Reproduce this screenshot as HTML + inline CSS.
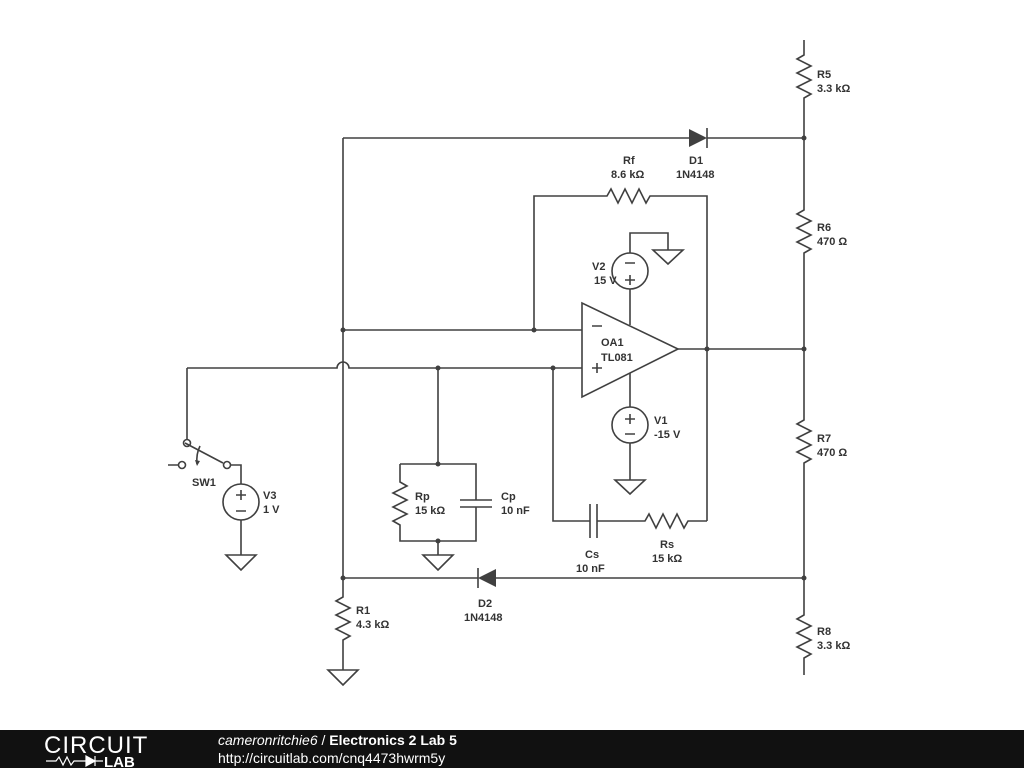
<!DOCTYPE html>
<html><head><meta charset="utf-8"><style>
body{margin:0;background:#fff}
svg{display:block}
text{font-family:"Liberation Sans",sans-serif;font-size:11px;font-weight:bold;fill:#333}
</style></head><body>
<svg width="1024" height="768" viewBox="0 0 1024 768" xmlns="http://www.w3.org/2000/svg">
<g stroke="#404040" stroke-width="1.6" fill="none">
<path d="M804 40V55l-7 4 14 7-14 7 14 7-14 7 14 7-7 4V210l-7 4 14 7-14 7 14 7-14 7 14 7-7 4V420l-7 4 14 7-14 7 14 7-14 7 14 7-7 4V615l-7 4 14 7-14 7 14 7-14 7 14 7-7 4V675"/>
<path d="M343 138H689M707 138H804"/>
<path d="M707 128V148"/>
<path d="M343 138V597l-7 4 14 7-14 7 14 7-14 7 14 7-7 4V670"/>
<path d="M534 330V196H607l4-7 7 14 7-14 7 14 7-14 7 14 4-7H707V521"/>
<path d="M343 330H582"/>
<path d="M582 303V397L678 349Z"/>
<path d="M678 349H804"/>
<path d="M187 368H337a6 6 0 0 1 12 0H582"/>
<path d="M630 325V289M630 253V233H668V250"/>
<circle cx="630" cy="271" r="18"/>
<path d="M625 263h10M630 275v10M625 280h10"/>
<path d="M630 373V407M630 443V480"/>
<circle cx="630" cy="425" r="18"/>
<path d="M625 419h10M630 414v10M625 434h10"/>
<path d="M553 368V521H590M597 521H645l4-7 7 14 7-14 7 14 7-14 7 14 4-7H707"/>
<path d="M590 504V538M597 504V538"/>
<path d="M438 368V464M400 464H476V500M476 507V541H400V525l-7-4 14-7-14-7 14-7-14-7 14-7-7-4V464M438 541V555"/>
<path d="M460 500H492M460 507H492"/>
<path d="M187 368V439M168 465H178M185 443L223 463M231 465H241V484M241 520V555"/>
<circle cx="187" cy="443" r="3.5"/><circle cx="182" cy="465" r="3.5"/><circle cx="227" cy="465" r="3.5"/>
<path d="M200 446q-4 8 -3 18"/>
<circle cx="241" cy="502" r="18"/>
<path d="M236 495h10M241 490v10M236 511h10"/>
<path d="M343 578H478M496 578H804"/>
<path d="M478 568V588"/>
<path d="M653 250H683L668 264Z"/>
<path d="M615 480H645L630 494Z"/>
<path d="M226 555H256L241 570Z"/>
<path d="M423 555H453L438 570Z"/>
<path d="M328 670H358L343 685Z"/>
<path d="M592 326h10M592 368h10M597 363v10"/>
</g>
<g fill="#404040">
<path d="M689 129V147L707 138Z"/>
<path d="M496 569V587L478 578Z"/>
<path d="M195 460l2 6 3-5Z"/>
<circle cx="804" cy="138" r="2.5"/><circle cx="804" cy="349" r="2.5"/><circle cx="804" cy="578" r="2.5"/>
<circle cx="707" cy="349" r="2.5"/><circle cx="534" cy="330" r="2.5"/><circle cx="343" cy="330" r="2.5"/>
<circle cx="438" cy="368" r="2.5"/><circle cx="553" cy="368" r="2.5"/><circle cx="438" cy="464" r="2.5"/>
<circle cx="438" cy="541" r="2.5"/><circle cx="343" cy="578" r="2.5"/>
</g>
<text x="817" y="78">R5</text><text x="817" y="92">3.3 kΩ</text>
<text x="817" y="231">R6</text><text x="817" y="245">470 Ω</text>
<text x="817" y="442">R7</text><text x="817" y="456">470 Ω</text>
<text x="817" y="635">R8</text><text x="817" y="649">3.3 kΩ</text>
<text x="623" y="164">Rf</text><text x="611" y="178">8.6 kΩ</text>
<text x="689" y="164">D1</text><text x="676" y="178">1N4148</text>
<text x="592" y="270">V2</text><text x="594" y="284">15 V</text>
<text x="601" y="346">OA1</text><text x="601" y="361">TL081</text>
<text x="654" y="424">V1</text><text x="654" y="438">-15 V</text>
<text x="192" y="486">SW1</text>
<text x="263" y="499">V3</text><text x="263" y="513">1 V</text>
<text x="415" y="500">Rp</text><text x="415" y="514">15 kΩ</text>
<text x="501" y="500">Cp</text><text x="501" y="514">10 nF</text>
<text x="585" y="558">Cs</text><text x="576" y="572">10 nF</text>
<text x="660" y="548">Rs</text><text x="652" y="562">15 kΩ</text>
<text x="478" y="607">D2</text><text x="464" y="621">1N4148</text>
<text x="356" y="614">R1</text><text x="356" y="628">4.3 kΩ</text>
<rect x="0" y="730" width="1024" height="38" fill="#111"/>
<text x="44" y="753" style="font-size:24px;font-weight:normal;fill:#fff;letter-spacing:1px">CIRCUIT</text>
<path d="M46 761h10l3-4 4 8 4-8 4 8 3-4h12" stroke="#fff" stroke-width="1.2" fill="none"/>
<path d="M86 756v10l9-5Z M95 756v10 M95 761h8" stroke="#fff" fill="#fff" stroke-width="1.2"/>
<text x="104" y="767" style="font-size:15px;font-weight:bold;fill:#fff">LAB</text>
<text x="218" y="745" style="font-size:14px;font-weight:normal;font-style:italic;fill:#fff">cameronritchie6 <tspan font-style="normal">/</tspan> <tspan font-weight="bold" font-style="normal">Electronics 2 Lab 5</tspan></text>
<text x="218" y="763" style="font-size:14px;font-weight:normal;fill:#fff">http://circuitlab.com/cnq4473hwrm5y</text>
</svg>
</body></html>
